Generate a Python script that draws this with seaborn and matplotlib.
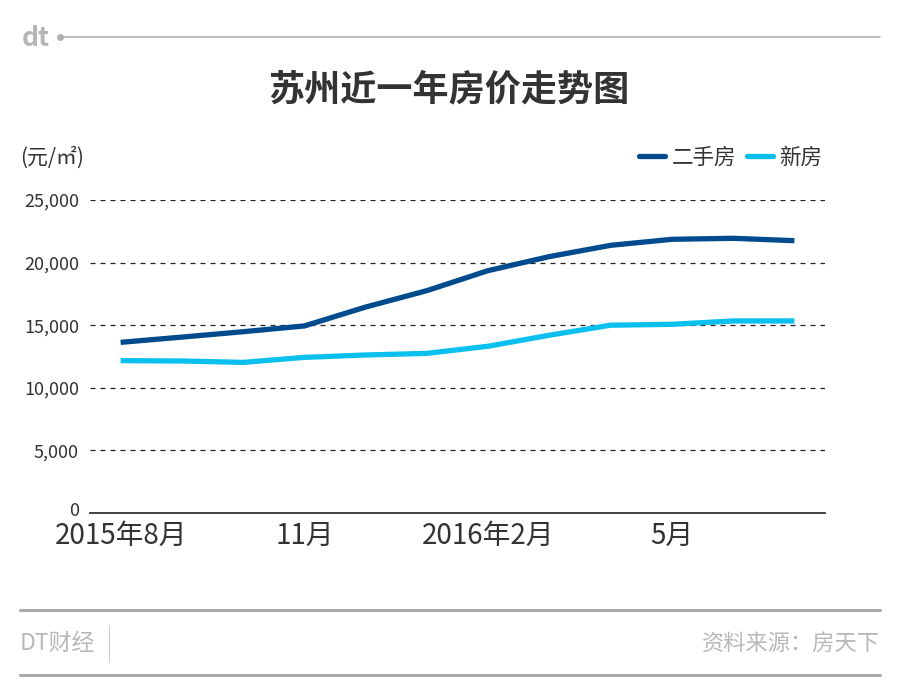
import matplotlib
matplotlib.use("Agg")
import matplotlib.pyplot as plt
from matplotlib.lines import Line2D
from matplotlib.transforms import ScaledTranslation
import seaborn as sns
import pandas as pd

months = ["2015-08", "2015-09", "2015-10", "2015-11", "2015-12", "2016-01",
          "2016-02", "2016-03", "2016-04", "2016-05", "2016-06", "2016-07"]
second_hand = [13630, 14050, 14480, 14940, 16450, 17760,
               19360, 20480, 21380, 21860, 21940, 21750]
new_home = [12170, 12140, 12030, 12430, 12620, 12750,
            13320, 14200, 15000, 15070, 15340, 15340]
series_names = ["二手房", "新房"]
tick_pos = [0, 3, 6, 9]
tick_labels = ["2015年8月", "11月", "2016年2月", "5月"]
y_ticks = [0, 5000, 10000, 15000, 20000, 25000]

df = pd.DataFrame({
    "idx": list(range(len(months))) * 2,
    "price": second_hand + new_home,
    "kind": [series_names[0]] * len(months) + [series_names[1]] * len(months),
})

sns.set_style("white")
plt.rcParams['font.family'] = ['Noto Sans CJK SC', 'DejaVu Sans']

colors = {"二手房": "#004B8D", "新房": "#0BBFEF"}

fig = plt.figure(figsize=(8.98, 6.98), dpi=100)
ax = fig.add_axes([90 / 898, 1 - 513 / 698, 735 / 898, 313 / 698])

sns.lineplot(data=df, x="idx", y="price", hue="kind", palette=colors,
             linewidth=3.8, ax=ax, legend=False)
for ln in ax.lines:
    ln.set_solid_capstyle("butt")
    ln.set_solid_joinstyle("round")

ax.set_xlim(-0.5, 11.5)
ax.set_ylim(0, 25000)
ax.set_yticks(y_ticks)
ax.set_yticklabels([f"{v:,}" for v in y_ticks], fontsize=13, color="#333333")
ax.set_xticks(tick_pos)
ax.set_xticklabels(tick_labels, fontsize=20, color="#333333")
ax.tick_params(axis="both", length=0)
ax.tick_params(axis="x", pad=6)
ax.tick_params(axis="y", pad=8)
ax.set_xlabel("")
ax.set_ylabel("")
ax.yaxis.grid(True, linestyle=(0, (4, 4)), color="#222222", linewidth=0.9)
ax.set_axisbelow(True)
for s in ["top", "right", "left"]:
    ax.spines[s].set_visible(False)
ax.spines["bottom"].set_color("#333333")
ax.spines["bottom"].set_linewidth(1.3)
# nudge the "0" label up a few pixels so it clears the month labels
zero_lbl = ax.get_yticklabels()[0]
zero_lbl.set_transform(zero_lbl.get_transform() +
                       ScaledTranslation(0, 3 / 72, fig.dpi_scale_trans))

# title and unit
fig.text(0.5, 1 - 90 / 698, "苏州近一年房价走势图", ha="center", va="center",
         fontsize=26, fontweight="bold", color="#333333")
fig.text(20 / 898, 1 - 158 / 698, "(元/㎡)", ha="left", va="center",
         fontsize=15, color="#333333")

# legend
handles = [Line2D([0], [0], color=colors[n], linewidth=3.8) for n in series_names]
fig.legend(handles, series_names, loc="center right",
           bbox_to_anchor=(822 / 898, 1 - 158 / 698), ncol=2, frameon=False,
           fontsize=15.5, handlelength=1.2, handletextpad=0.3, columnspacing=0.5,
           borderpad=0, borderaxespad=0, labelcolor="#333333")

# header
fig.text(22 / 898, 1 - 38 / 698, "dt", ha="left", va="center", fontsize=19,
         color="#b5b5b5", fontweight="bold")
fig.add_artist(Line2D([58 / 898, 880 / 898], [1 - 37 / 698, 1 - 37 / 698],
                      color="#b0b0b0", linewidth=1.2))
fig.add_artist(Line2D([60 / 898], [1 - 37 / 698], marker="o", markersize=4,
                      color="#b0b0b0"))

# footer
for yy in [610, 675]:
    fig.add_artist(Line2D([20 / 898, 880 / 898], [1 - yy / 698, 1 - yy / 698],
                          color="#aaaaaa", linewidth=2.2))
fig.add_artist(Line2D([109 / 898, 109 / 898], [1 - 625 / 698, 1 - 662 / 698],
                      color="#cccccc", linewidth=0.8))
fig.text(20 / 898, 1 - 643 / 698, "DT财经", ha="left", va="center",
         fontsize=16.5, color="#b8b8b8")
fig.text(880 / 898, 1 - 643 / 698, "资料来源：房天下", ha="right", va="center",
         fontsize=16, color="#b8b8b8")

fig.savefig("out.png", dpi=100, facecolor="white")
